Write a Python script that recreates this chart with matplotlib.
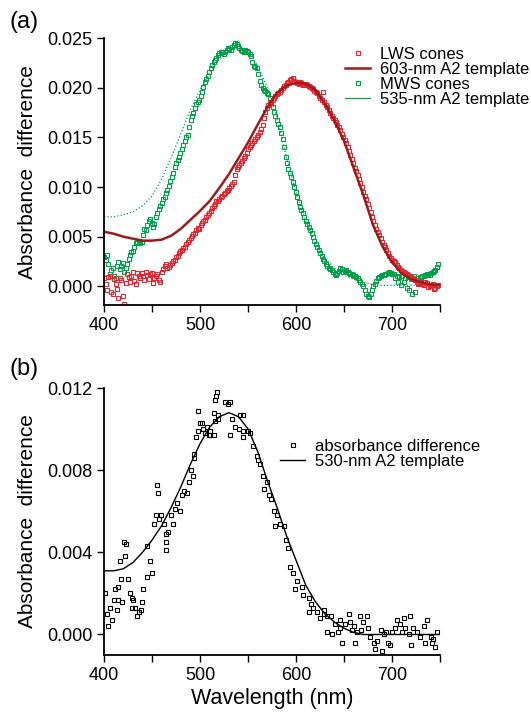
import matplotlib.pyplot as plt
from matplotlib.lines import Line2D
import numpy as np

plt.rcParams['font.family'] = ['Liberation Sans', 'DejaVu Sans']

# colours
red = '#e8232d'
dark_red = '#9b1c1f'
green = '#00a04b'

# ---------------- panel (a) data ----------------
# two interleaved scans per cone class
wl_a = list(range(400, 749, 3))
wl_a2 = list(np.arange(401.5, 748, 3))

lws = [0.0008, -0.0004, 0.0010, -0.0008, 0.0002, -0.0012, 0.0006, -0.0018, 0.0012, 0.0004,
       0.0014, 0.0002, 0.0010, 0.0013, 0.0006, 0.0011, 0.0012, 0.0003, 0.0010, 0.0006,
       0.0014, 0.0020, 0.0018, 0.0021, 0.0025, 0.0030, 0.0034, 0.0037, 0.0040, 0.0045,
       0.0049, 0.0053, 0.0057, 0.0058, 0.0064, 0.0067, 0.0072, 0.0076, 0.0081, 0.0086,
       0.0088, 0.0091, 0.0094, 0.0097, 0.0101, 0.0105, 0.0118, 0.0122, 0.0126, 0.0131,
       0.0138, 0.0142, 0.0146, 0.0150, 0.0155, 0.0162, 0.0176, 0.0183, 0.0186, 0.0190,
       0.0194, 0.0196, 0.0200, 0.0203, 0.0206, 0.0209, 0.0207, 0.0205, 0.0206, 0.0203,
       0.0204, 0.0202, 0.0200, 0.0197, 0.0195, 0.0190, 0.0196, 0.0183, 0.0178, 0.0172,
       0.0168, 0.0163, 0.0157, 0.0150, 0.0144, 0.0136, 0.0128, 0.0119, 0.0112, 0.0104,
       0.0095, 0.0088, 0.0079, 0.0070, 0.0062, 0.0055, 0.0049, 0.0042, 0.0037, 0.0031,
       0.0026, 0.0024, 0.0019, 0.0016, 0.0014, 0.0012, 0.0010, 0.0008, 0.0006, 0.0002,
       0.0004, 0.0001, 0.0003, 0.0000, 0.0002, -0.0002, 0.0001]
lws2 = [0.0002, 0.0009, -0.0006, 0.0007, -0.0003, 0.0008, -0.0010, 0.0003, 0.0009, 0.0010,
        0.0005, 0.0013, 0.0008, 0.0010, 0.0014, 0.0007, 0.0013, 0.0008, 0.0012, 0.0004,
        0.0017, 0.0022, 0.0019, 0.0023, 0.0027, 0.0031, 0.0036, 0.0039, 0.0043, 0.0047,
        0.0051, 0.0054, 0.0059, 0.0062, 0.0066, 0.0070, 0.0074, 0.0079, 0.0083, 0.0086,
        0.0090, 0.0093, 0.0096, 0.0099, 0.0103, 0.0112, 0.0120, 0.0124, 0.0129, 0.0134,
        0.0140, 0.0144, 0.0148, 0.0152, 0.0158, 0.0170, 0.0180, 0.0185, 0.0188, 0.0192,
        0.0195, 0.0198, 0.0202, 0.0205, 0.0208, 0.0210, 0.0206, 0.0204, 0.0205, 0.0204,
        0.0203, 0.0201, 0.0199, 0.0196, 0.0192, 0.0188, 0.0186, 0.0181, 0.0175, 0.0170,
        0.0166, 0.0160, 0.0153, 0.0147, 0.0140, 0.0132, 0.0124, 0.0116, 0.0108, 0.0100,
        0.0091, 0.0083, 0.0075, 0.0066, 0.0058, 0.0052, 0.0045, 0.0040, 0.0034, 0.0029,
        0.0025, 0.0021, 0.0018, 0.0015, 0.0013, 0.0011, 0.0009, 0.0007, 0.0004, 0.0003,
        0.0002, 0.0004, -0.0001, 0.0001, -0.0003, 0.0000]

mws = [0.0030, 0.0032, 0.0012, 0.0018, 0.0008, 0.0024, 0.0020, 0.0014, 0.0022, 0.0032,
       0.0036, 0.0044, 0.0046, 0.0045, 0.0058, 0.0062, 0.0068, 0.0060, 0.0070, 0.0078,
       0.0084, 0.0090, 0.0097, 0.0106, 0.0114, 0.0124, 0.0130, 0.0138, 0.0146, 0.0152,
       0.0168, 0.0175, 0.0184, 0.0188, 0.0196, 0.0206, 0.0212, 0.0220, 0.0226, 0.0230,
       0.0235, 0.0236, 0.0236, 0.0240, 0.0238, 0.0243, 0.0244, 0.0240, 0.0237, 0.0238,
       0.0236, 0.0232, 0.0222, 0.0220, 0.0207, 0.0200, 0.0197, 0.0194, 0.0186, 0.0176,
       0.0168, 0.0160, 0.0148, 0.0130, 0.0118, 0.0110, 0.0100, 0.0090, 0.0080, 0.0074,
       0.0066, 0.0060, 0.0054, 0.0046, 0.0040, 0.0034, 0.0028, 0.0022, 0.0018, 0.0016,
       0.0012, 0.0013, 0.0018, 0.0014, 0.0016, 0.0013, 0.0012, 0.0010, 0.0008, 0.0004,
       0.0000, -0.0008, -0.0011, -0.0004, 0.0002, 0.0008, 0.0010, 0.0011, 0.0012, 0.0014,
       0.0012, 0.0008, 0.0004, 0.0001, 0.0004, -0.0002, -0.0004, -0.0008, -0.0006, 0.0003,
       0.0006, 0.0010, 0.0012, 0.0011, 0.0014, 0.0016, 0.0022]
mws2 = [0.0027, 0.0022, 0.0016, 0.0010, 0.0020, 0.0017, 0.0023, 0.0018, 0.0028, 0.0035,
        0.0040, 0.0045, 0.0044, 0.0052, 0.0057, 0.0066, 0.0064, 0.0063, 0.0074, 0.0081,
        0.0088, 0.0094, 0.0101, 0.0110, 0.0120, 0.0127, 0.0134, 0.0142, 0.0150, 0.0160,
        0.0172, 0.0180, 0.0186, 0.0192, 0.0201, 0.0209, 0.0216, 0.0223, 0.0228, 0.0233,
        0.0236, 0.0234, 0.0238, 0.0239, 0.0241, 0.0245, 0.0242, 0.0238, 0.0236, 0.0237,
        0.0234, 0.0226, 0.0221, 0.0214, 0.0203, 0.0198, 0.0195, 0.0190, 0.0181, 0.0172,
        0.0164, 0.0154, 0.0140, 0.0124, 0.0114, 0.0105, 0.0095, 0.0085, 0.0077, 0.0070,
        0.0063, 0.0057, 0.0050, 0.0043, 0.0037, 0.0031, 0.0025, 0.0020, 0.0017, 0.0014,
        0.0011, 0.0015, 0.0017, 0.0015, 0.0014, 0.0012, 0.0011, 0.0009, 0.0006, 0.0002,
        -0.0004, -0.0010, -0.0008, 0.0000, 0.0005, 0.0009, 0.0011, 0.0012, 0.0013, 0.0013,
        0.0012, 0.0010, 0.0009, 0.0010, 0.0008, 0.0009, 0.0007, 0.0010, 0.0008, 0.0009,
        0.0010, 0.0011, 0.0012, 0.0013, 0.0015, 0.0019]

wl_tmpl = list(range(400, 751, 10))
tmpl_603 = [0.0055, 0.0053, 0.0050, 0.0048, 0.0046, 0.0046, 0.0047, 0.0051, 0.0058, 0.0067,
            0.0076, 0.0086, 0.0099, 0.0113, 0.0129, 0.0145, 0.0163, 0.0180, 0.0195, 0.0202,
            0.0205, 0.0204, 0.0198, 0.0184, 0.0167, 0.0146, 0.0119, 0.0092, 0.0062, 0.0040,
            0.0024, 0.0013, 0.0007, 0.0004, 0.0002, 0.0001]
tmpl_535 = [0.0070, 0.0070, 0.0072, 0.0075, 0.0081, 0.0091, 0.0108, 0.0130, 0.0154, 0.0178,
            0.0198, 0.0215, 0.0229, 0.0238, 0.0241, 0.0236, 0.0222, 0.0200, 0.0170, 0.0130,
            0.0094, 0.0066, 0.0044, 0.0028, 0.0018, 0.0011, 0.0007, 0.0004, 0.0002, 0.0001,
            0.0001, 0.0001, 0.0001, 0.0001, 0.0001, 0.0001]

# ---------------- panel (b) data ----------------
wl_b = [401, 403, 404, 406, 408, 410, 411, 413, 415, 415, 417, 418, 419, 421, 422, 423,
        425, 427, 429, 429.5, 430, 432, 434, 436, 438, 440, 441, 445, 445, 448, 450, 452,
        454, 455, 456, 457, 459, 462, 464, 464, 465, 467, 470, 472, 474, 476, 479, 481,
        483, 486, 488, 491, 493, 494, 494, 496, 498, 498, 500, 502, 503, 505, 507, 509,
        510, 510, 514, 514, 515, 516, 517, 517.5, 519, 519, 526, 529, 531, 531, 533, 536,
        540, 542, 545, 545, 545, 550, 552, 555, 559, 560, 562, 566, 567, 570, 572, 574,
        577, 578, 580, 583, 587, 589, 592, 594, 597, 599, 601, 606, 607, 613, 613, 615,
        618, 622, 625, 629, 629, 632, 632, 636, 637, 640, 644, 646, 646, 648, 651, 655,
        656, 658, 660, 661, 663, 667, 668, 670, 674, 675, 677, 681, 682, 684, 688, 689,
        691, 694, 696, 698, 700, 703, 705, 708, 710, 712, 713, 717, 719, 720, 722, 726,
        729, 733, 734, 736, 740, 741, 743, 745, 747]
abs_b = [0.0020, 0.0010, 0.0004, 0.0013, 0.0007, 0.0017, 0.0022, 0.0012, 0.0023, 0.0017,
         0.0036, 0.0027, 0.0016, 0.0045, 0.0038, 0.0044, 0.0027, 0.0020, 0.0018, 0.0013,
         0.0017, 0.0013, 0.0009, 0.0011, 0.0012, 0.0016, 0.0022, 0.0028, 0.0043, 0.0036,
         0.0030, 0.0054, 0.0058, 0.0073, 0.0069, 0.0056, 0.0058, 0.0054, 0.0049, 0.0041,
         0.0045, 0.0050, 0.0058, 0.0054, 0.0061, 0.0064, 0.0060, 0.0068, 0.0070, 0.0069,
         0.0074, 0.0080, 0.0077, 0.0086, 0.0088, 0.0096, 0.0099, 0.0109, 0.0103, 0.0103,
         0.0100, 0.0098, 0.0101, 0.0097, 0.0099, 0.0097, 0.0108, 0.0097, 0.0114, 0.0104,
         0.0116, 0.0118, 0.0107, 0.0105, 0.0113, 0.0112, 0.0113, 0.0097, 0.0105, 0.0101,
         0.0100, 0.0107, 0.0099, 0.0096, 0.0107, 0.0099, 0.0098, 0.0092, 0.0087, 0.0085,
         0.0083, 0.0077, 0.0071, 0.0074, 0.0068, 0.0066, 0.0060, 0.0053, 0.0058, 0.0054,
         0.0053, 0.0046, 0.0042, 0.0033, 0.0030, 0.0022, 0.0026, 0.0023, 0.0019, 0.0018,
         0.0011, 0.0015, 0.0013, 0.0011, 0.0008, 0.0010, 0.0012, 0.0009, 0.0001, 0.0009,
         0.0000, 0.0005, 0.0001, 0.0003, 0.0007, -0.0004, 0.0005, 0.0010, 0.0006, 0.0002,
         0.0004, -0.0004, 0.0001, 0.0009, 0.0002, 0.0006, 0.0009, 0.0003, -0.0001, -0.0004,
         -0.0007, -0.0003, 0.0002, -0.0008, 0.0000, 0.0001, -0.0004, -0.0005, 0.0001, 0.0003,
         0.0007, 0.0005, 0.0001, 0.0008, 0.0003, 0.0000, 0.0009, -0.0005, 0.0003, 0.0001,
         -0.0001, 0.0004, -0.0004, 0.0007, -0.0001, -0.0004, -0.0002, -0.0006, 0.0001]

tmpl_530 = [0.0031, 0.0031, 0.0032, 0.0035, 0.0040, 0.0046, 0.0053, 0.0062, 0.0072, 0.0083,
            0.0093, 0.0101, 0.0106, 0.0108, 0.0106, 0.0100, 0.0089, 0.0075, 0.0062, 0.0048,
            0.0036, 0.0024, 0.0016, 0.0010, 0.0006, 0.0003, 0.0001, 0.0000, 0.0000, 0.0000,
            0.0000, 0.0000, 0.0000, 0.0000, 0.0000, 0.0000]

tick_size = 13
label_size = 15
legend_size = 12


def style_axes(ax, ylim, yticks, ylabels):
    ax.set_xlim(400, 750)
    ax.set_ylim(*ylim)
    ax.spines['top'].set_visible(False)
    ax.spines['right'].set_visible(False)
    ax.spines['left'].set_linewidth(1.3)
    ax.spines['bottom'].set_linewidth(1.3)
    ax.set_xticks(np.arange(400, 751, 50))
    ax.set_xticklabels(['400', '', '500', '', '600', '', '700', ''])
    ax.set_yticks(yticks)
    ax.set_yticklabels(ylabels)
    ax.tick_params(direction='out', length=5, width=1, labelsize=tick_size)
    ax.set_ylabel('Absorbance  difference', fontsize=label_size, labelpad=7)


def cone_marker(color, ms):
    return dict(ls='none', marker='s', ms=ms, mfc='none', mec=color, mew=0.8)


fig = plt.figure(figsize=(5.31, 7.13), dpi=100)

# panel (a)
ax1 = fig.add_axes([0.196, 0.572, 0.633, 0.3745])
ax1.plot(wl_tmpl, tmpl_535, ':', color=green, lw=0.9)
ax1.plot(wl_a, mws, **cone_marker(green, 3))
ax1.plot(wl_a2, mws2, **cone_marker(green, 3))
ax1.plot(wl_a, lws, **cone_marker(red, 3))
ax1.plot(wl_a2, lws2, **cone_marker(red, 3))
ax1.plot(wl_tmpl, tmpl_603, '-', color=dark_red, lw=1.8)
style_axes(ax1, (-0.0019, 0.025), [0, 0.005, 0.010, 0.015, 0.020, 0.025],
           ['0.000', '0.005', '0.010', '0.015', '0.020', '0.025'])

handles_a = [
    Line2D([], [], **cone_marker(red, 3)),
    Line2D([], [], color=dark_red, lw=1.8),
    Line2D([], [], **cone_marker(green, 3)),
    Line2D([], [], color=green, lw=0.9),
]
labels_a = ['LWS cones', '603-nm A2 template', 'MWS cones', '535-nm A2 template']
ax1.legend(handles_a, labels_a, loc='upper left', bbox_to_anchor=(0.717, 0.966),
           frameon=False, fontsize=legend_size, borderpad=0, borderaxespad=0,
           handlelength=1.5, handletextpad=0.6, labelspacing=0.0)
fig.text(0.017, 0.985, '(a)', fontsize=17, va='top')

# panel (b)
ax2 = fig.add_axes([0.196, 0.0813, 0.633, 0.3745])
ax2.plot(wl_b, abs_b, **cone_marker('black', 2.6))
ax2.plot(wl_tmpl, tmpl_530, '-', color='black', lw=1.0)
style_axes(ax2, (-0.001, 0.012), [0, 0.004, 0.008, 0.012],
           ['0.000', '0.004', '0.008', '0.012'])
ax2.set_xlabel('Wavelength (nm)', fontsize=15.5, labelpad=3)

handles_b = [
    Line2D([], [], **cone_marker('black', 2.6)),
    Line2D([], [], color='black', lw=1.0),
]
labels_b = ['absorbance difference', '530-nm A2 template']
ax2.legend(handles_b, labels_b, loc='upper left', bbox_to_anchor=(0.524, 0.809),
           frameon=False, fontsize=legend_size, borderpad=0, borderaxespad=0,
           handlelength=1.5, handletextpad=0.6, labelspacing=0.0)
fig.text(0.017, 0.498, '(b)', fontsize=17, va='top')

fig.savefig('out.png', dpi=100)
